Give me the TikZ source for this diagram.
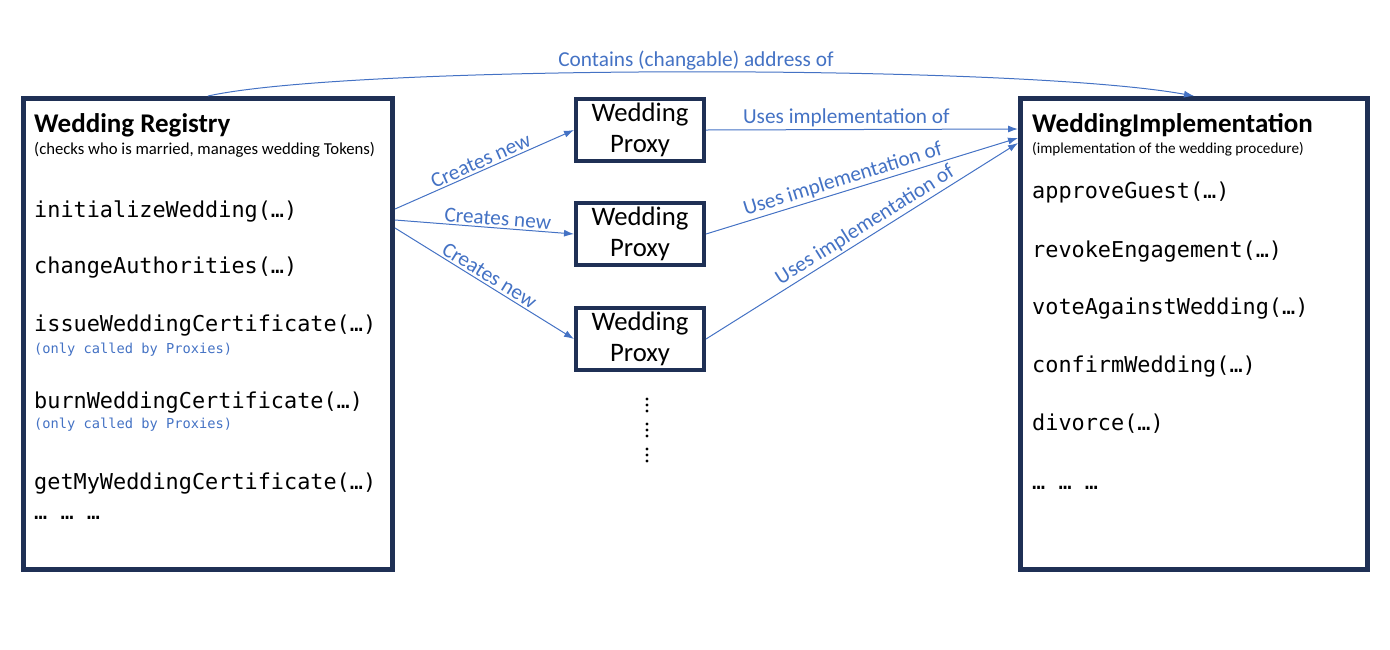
\documentclass[tikz,border=0pt]{standalone}
\usepackage{fontspec}
\setmainfont{Carlito}
\setmonofont{DejaVu Sans Mono}
\usetikzlibrary{arrows.meta}
\definecolor{navy}{RGB}{31,48,85}
\definecolor{lblue}{RGB}{68,114,196}
\tikzset{
 bigbox/.style={draw=navy, line width=5pt, minimum width=#1, minimum height=471pt, inner sep=0pt},
 proxy/.style={draw=navy, line width=4pt, minimum width=128pt, minimum height=62pt, inner sep=0pt, align=center, font=\fontsize{26.7}{31}\selectfont},
 title/.style={anchor=base west, inner sep=0pt, font=\fontsize{27}{30}\selectfont\bfseries},
 sub/.style={anchor=base west, inner sep=0pt, font=\fontsize{#1}{18}\selectfont},
 code/.style={anchor=base west, inner sep=0pt, font=\fontsize{21.85}{26}\ttfamily},
 note/.style={anchor=base west, inner sep=0pt, text=lblue, font=\fontsize{13.7}{16}\ttfamily},
 arr/.style={draw=lblue, line width=1pt, -{Latex[length=10pt,width=7pt]}},
 lbl/.style={text=lblue, font=\fontsize{21.3}{24}\selectfont, inner sep=2pt},
}
\begin{document}
\begin{tikzpicture}[x=1pt,y=-1pt]
\useasboundingbox (0,0) rectangle (1390,649);
% boxes
\node[bigbox=369pt] (reg) at (208,334) {};
\node[bigbox=347pt] (impl) at (1194,334) {};
\node[proxy] (p1) at (640,130) {Wedding\\Proxy};
\node[proxy] (p2) at (640,234) {Wedding\\Proxy};
\node[proxy] (p3) at (640,339) {Wedding\\Proxy};
% left box texts
\node[title] (regt) at (34,132) {Wedding Registry};
\node[sub=16.7] (regs) at (34,154) {(checks who is married, manages wedding Tokens)};
\node[code] (r1) at (34,217) {initializeWedding(…)};
\node[code] (r2) at (34,273) {changeAuthorities(…)};
\node[code] (r3) at (34,331) {issueWeddingCertificate(…)};
\node[note] (r3n) at (34,353) {(only called by Proxies)};
\node[code] (r4) at (34,408) {burnWeddingCertificate(…)};
\node[note] (r4n) at (34,428) {(only called by Proxies)};
\node[code] (r5) at (34,489) {getMyWeddingCertificate(…)};
\node[code] (r6) at (34,519) {… … …};
% right box texts
\node[title] (implt) at (1032,132) {WeddingImplementation};
\node[sub=15.2] (impls) at (1032,153) {(implementation of the wedding procedure)};
\node[code] (i1) at (1032,198) {approveGuest(…)};
\node[code] (i2) at (1032,257) {revokeEngagement(…)};
\node[code] (i3) at (1032,314) {voteAgainstWedding(…)};
\node[code] (i4) at (1032,372) {confirmWedding(…)};
\node[code] (i5) at (1032,430) {divorce(…)};
\node[code] (i6) at (1032,489) {… … …};
% vertical dots
\foreach \y in {399,405,411,424,430,436,449,455,461}
  \fill (647,\y) circle (1.6pt);
% connectors
\draw[arr] (reg.north) .. controls +(145,-32) and +(-175,-32) .. (impl.north);
\node[lbl, anchor=base, inner sep=0pt] (lc) at (696,66) {Contains (changable) address of};
\draw[arr] ([yshift=125pt]reg.east) -- (p1.west)
  node[lbl, pos=0.5, sloped, above] (l1) {Creates new};
\draw[arr] ([yshift=114pt]reg.east) -- (p2.west)
  node[lbl, pos=0.57, sloped, above] (l2) {Creates new};
\draw[arr] ([yshift=106pt]reg.east) -- (p3.west)
  node[lbl, pos=0.5, sloped, above] (l3) {Creates new};
\draw[arr] (p1.east) -- ([yshift=205pt]impl.west)
  node[lbl, pos=0.45, sloped, above] (u1) {Uses implementation of};
\draw[arr] (p2.east) -- ([yshift=196pt]impl.west)
  node[lbl, pos=0.45, sloped, above] (u2) {Uses implementation of};
\draw[arr] (p3.east) -- ([yshift=191pt]impl.west)
  node[lbl, pos=0.53, sloped, above] (u3) {Uses implementation of};
\end{tikzpicture}
\end{document}
